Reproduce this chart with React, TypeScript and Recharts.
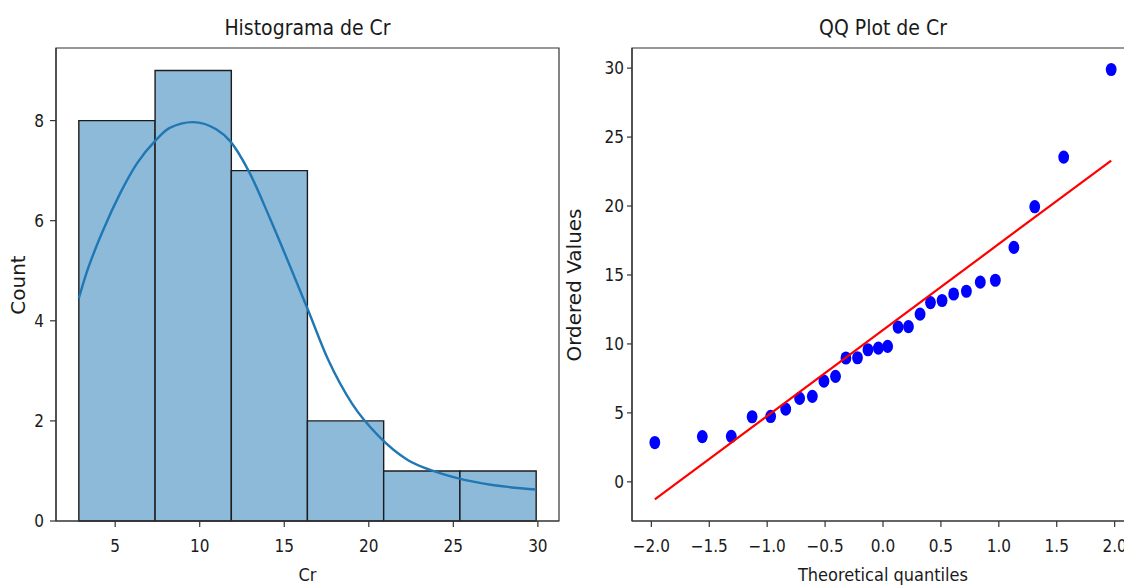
import React from 'react';
import { ComposedChart, Line, Scatter, XAxis, YAxis, ReferenceArea } from 'recharts';

// histogram of Cr
const binEdges = [2.85, 7.36, 11.87, 16.37, 20.88, 25.39, 29.9];
const binCounts = [8, 9, 7, 2, 1, 1];

// kde curve
const kdeX = [2.85, 3.3, 4.3, 5.3, 6.3, 7.35, 8.2, 9.6, 11.0, 11.8, 12.9, 14.1, 15.1, 16.4, 17.6, 19.0, 20.6, 22.3, 23.9, 25.3, 27.3, 29.9];
const kdeY = [4.45, 4.95, 5.82, 6.55, 7.15, 7.59, 7.85, 7.97, 7.82, 7.59, 6.99, 6.09, 5.29, 4.22, 3.22, 2.35, 1.69, 1.22, 0.99, 0.85, 0.72, 0.63];

const histXDomain = [1.5, 31.25];
const histYDomain = [0, 9.45];
const histXTicks = [5, 10, 15, 20, 25, 30];
const histYTicks = [0, 2, 4, 6, 8];

// qq plot
const theoreticalQuantiles = [-1.97, -1.56, -1.31, -1.13, -0.97, -0.84, -0.72, -0.61, -0.51, -0.41, -0.32, -0.22, -0.13, -0.04, 0.04, 0.13, 0.22, 0.32, 0.41, 0.51, 0.61, 0.72, 0.84, 0.97, 1.13, 1.31, 1.56, 1.97];
const orderedValues = [2.85, 3.28, 3.3, 4.72, 4.74, 5.27, 6.05, 6.2, 7.3, 7.65, 8.98, 9.0, 9.58, 9.7, 9.82, 11.22, 11.25, 12.16, 13.0, 13.15, 13.62, 13.82, 14.48, 14.62, 17.0, 19.95, 23.55, 29.9];
const fitX = [-1.97, 1.97];
const fitY = [-1.28, 23.3];

const qqXDomain = [-2.167, 2.167];
const qqYDomain = [-2.84, 31.46];
const qqXTicks = [-2, -1.5, -1, -0.5, 0, 0.5, 1, 1.5, 2];
const qqYTicks = [0, 5, 10, 15, 20, 25, 30];

const kdeData = kdeX.map((x, i) => ({ x, y: kdeY[i] }));
const qqData = theoreticalQuantiles.map((x, i) => ({ x, y: orderedValues[i] }));
const fitData = fitX.map((x, i) => ({ x, y: fitY[i] }));

const FONT = "'DejaVu Sans Condensed', 'DejaVu Sans', sans-serif";
const AXIS = '#333';
const tickStyle = { fill: '#1a1a1a', fontSize: 17, fontFamily: FONT };
const lineStyle = { stroke: AXIS, strokeWidth: 1.2 };

const fmtQ = (v: number) => v.toFixed(1).replace('-', '\u2212');

const Dot = (props: any) => (
  <ellipse cx={props.cx} cy={props.cy} rx={5.4} ry={6.6} fill="#0000ff" />
);

export default function App() {
  return (
    <div style={{ position: 'fixed', left: 0, top: 0, width: 1124, height: 586, overflow: 'hidden', background: '#fff' }}>
      <div style={{ position: 'absolute', left: 0, top: 0 }}>
        <ComposedChart width={570} height={586} data={kdeData} margin={{ top: 48, right: 11, bottom: 0, left: 0 }}>
          <XAxis
            dataKey="x"
            type="number"
            domain={histXDomain}
            ticks={histXTicks}
            interval={0}
            allowDataOverflow
            height={65}
            tick={tickStyle}
            tickSize={6}
            tickMargin={13}
            tickLine={lineStyle}
            axisLine={lineStyle}
          />
          <YAxis
            type="number"
            domain={histYDomain}
            ticks={histYTicks}
            interval={0}
            allowDataOverflow
            width={56}
            tick={tickStyle}
            tickSize={6}
            tickMargin={6}
            tickLine={lineStyle}
            axisLine={lineStyle}
          />
          {binCounts.map((c, i) => (
            <ReferenceArea
              key={i}
              x1={binEdges[i]}
              x2={binEdges[i + 1]}
              y1={0}
              y2={c}
              fill="#8ebad9"
              fillOpacity={1}
              stroke="#1c1c1c"
              strokeWidth={1.4}
            />
          ))}
          <ReferenceArea
            x1={histXDomain[0]}
            x2={histXDomain[1]}
            y1={histYDomain[0]}
            y2={histYDomain[1]}
            fill="none"
            fillOpacity={0}
            stroke={AXIS}
            strokeWidth={1.2}
          />
          <Line type="monotone" dataKey="y" stroke="#1f77b4" strokeWidth={2.4} dot={false} isAnimationActive={false} />
        </ComposedChart>
      </div>

      <div style={{ position: 'absolute', left: 570, top: 0 }}>
        <ComposedChart width={574} height={586} margin={{ top: 48, right: 10, bottom: 0, left: 0 }}>
          <XAxis
            dataKey="x"
            type="number"
            domain={qqXDomain}
            ticks={qqXTicks}
            interval={0}
            allowDataOverflow
            height={65}
            tick={tickStyle}
            tickFormatter={fmtQ}
            tickSize={6}
            tickMargin={13}
            tickLine={lineStyle}
            axisLine={lineStyle}
          />
          <YAxis
            dataKey="y"
            type="number"
            domain={qqYDomain}
            ticks={qqYTicks}
            interval={0}
            allowDataOverflow
            width={62}
            tick={tickStyle}
            tickSize={5}
            tickMargin={3}
            tickLine={lineStyle}
            axisLine={lineStyle}
          />
          <ReferenceArea
            x1={qqXDomain[0]}
            x2={qqXDomain[1]}
            y1={qqYDomain[0]}
            y2={qqYDomain[1]}
            fill="none"
            fillOpacity={0}
            stroke={AXIS}
            strokeWidth={1.2}
          />
          <Scatter data={qqData} shape={Dot} isAnimationActive={false} />
          <Scatter data={fitData} line={{ stroke: '#ff0000', strokeWidth: 2.2 }} lineType="joint" shape={() => <g />} isAnimationActive={false} />
        </ComposedChart>
      </div>

      <svg width={1124} height={586} style={{ position: 'absolute', left: 0, top: 0, pointerEvents: 'none' }}>
        <text x={307.5} y={35} textAnchor="middle" fontFamily={FONT} fontSize={21} fill="#1a1a1a">Histograma de Cr</text>
        <text x={883} y={35} textAnchor="middle" fontFamily={FONT} fontSize={21} fill="#1a1a1a">QQ Plot de Cr</text>
        <text x={307.5} y={581} textAnchor="middle" fontFamily={FONT} fontSize={18} fill="#1a1a1a">Cr</text>
        <text x={883} y={581} textAnchor="middle" fontFamily={FONT} fontSize={18} fill="#1a1a1a">Theoretical quantiles</text>
        <text x={25} y={285} transform="rotate(-90 25 285)" textAnchor="middle" fontFamily="'DejaVu Sans', sans-serif" fontSize={20} fill="#1a1a1a">Count</text>
        <text x={581} y={285} transform="rotate(-90 581 285)" textAnchor="middle" fontFamily="'DejaVu Sans', sans-serif" fontSize={20} fill="#1a1a1a">Ordered Values</text>
      </svg>
    </div>
  );
}
